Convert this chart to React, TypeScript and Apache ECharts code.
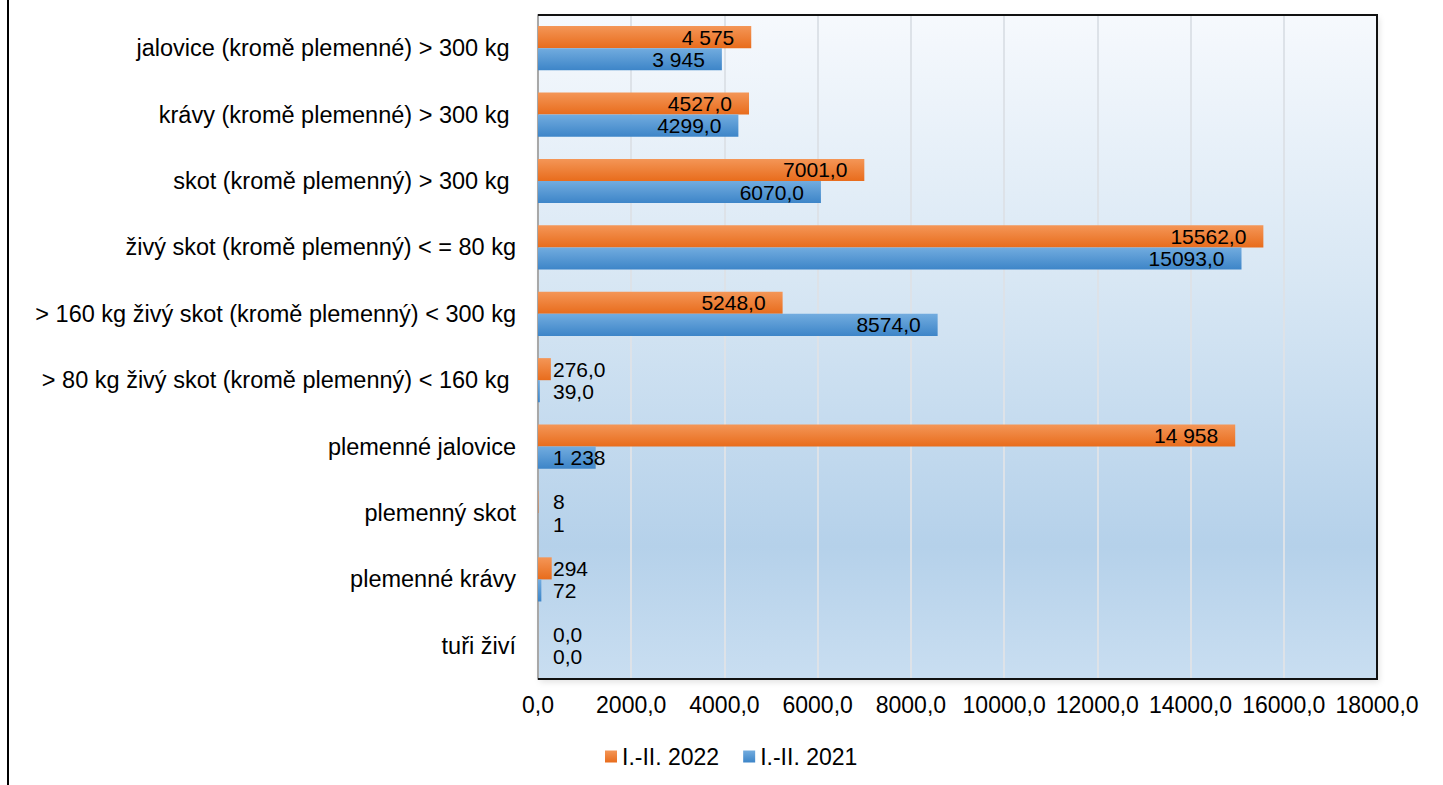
import React, { useEffect, useRef } from "react";
import * as echarts from "echarts";

const categories = [
  "jalovice (kromě plemenné) > 300 kg ",
  "krávy (kromě plemenné) > 300 kg ",
  "skot (kromě plemenný) > 300 kg ",
  "živý skot (kromě plemenný) < = 80 kg",
  "> 160 kg živý skot (kromě plemenný) < 300 kg",
  "> 80 kg živý skot (kromě plemenný) < 160 kg ",
  "plemenné jalovice",
  "plemenný skot",
  "plemenné krávy",
  "tuři živí",
];
const values2022 = [4575, 4527, 7001, 15562, 5248, 276, 14958, 8, 294, 0];
const values2021 = [3945, 4299, 6070, 15093, 8574, 39, 1238, 1, 72, 0];
// label number format per category: "space" = thousands space, "dec" = one decimal with comma, "int" = plain integer
const labelFormats = ["space", "dec", "dec", "dec", "dec", "dec", "space", "int", "int", "dec"];
const xTicks = { min: 0, max: 18000, interval: 2000 };
const seriesNames = ["I.-II. 2022", "I.-II. 2021"];

const FONT = "'Liberation Sans', Arial, sans-serif";

const G_LEFT = 538;
const G_RIGHT = 66;
const G_TOP = 15;
const G_BOTTOM = 106;
const W = 1443;
const H = 785;

function fmt(v: number, kind: string): string {
  if (kind === "dec") return v.toFixed(1).replace(".", ",");
  if (kind === "space") return String(Math.round(v)).replace(/\B(?=(\d{3})+(?!\d))/g, " ");
  return String(Math.round(v));
}

function buildData(vals: number[]) {
  return vals.map((v, i) => {
    const small = v < 2000;
    return {
      value: v,
      label: {
        show: true,
        formatter: fmt(v, labelFormats[i]),
        position: small ? [15, "50%"] : "insideRight",
        distance: 17,
        align: small ? "left" : undefined,
        verticalAlign: "middle",
        color: "#000",
        fontSize: 21,
        fontFamily: FONT,
      },
    };
  });
}

export default function App() {
  const ref = useRef<HTMLDivElement>(null);
  useEffect(() => {
    if (!ref.current) return;
    const chart = echarts.init(ref.current, undefined, { renderer: "svg" });
    const orange = new echarts.graphic.LinearGradient(0, 0, 0, 1, [
      { offset: 0, color: "#f49657" },
      { offset: 1, color: "#e86c1c" },
    ]);
    const blue = new echarts.graphic.LinearGradient(0, 0, 0, 1, [
      { offset: 0, color: "#72acdf" },
      { offset: 1, color: "#3d85c8" },
    ]);
    const x1 = G_LEFT;
    const x2 = W - G_RIGHT;
    const y1 = G_TOP;
    const y2 = H - G_BOTTOM;
    chart.setOption({
      animation: false,
      textStyle: { fontFamily: FONT },
      grid: {
        left: G_LEFT,
        right: G_RIGHT,
        top: G_TOP,
        bottom: G_BOTTOM,
        show: true,
        borderWidth: 0,
        backgroundColor: new echarts.graphic.LinearGradient(0, 0, 0, 1, [
          { offset: 0, color: "#f6f9fd" },
          { offset: 0.4, color: "#d8e7f4" },
          { offset: 0.8, color: "#b5d1ea" },
          { offset: 1, color: "#c9def1" },
        ]),
        shadowColor: "rgba(0,0,0,0.12)",
        shadowBlur: 6,
        shadowOffsetY: 3,
        shadowOffsetX: 2,
      },
      legend: {
        left: 600,
        top: 740,
        icon: "rect",
        itemWidth: 12,
        itemHeight: 12,
        itemGap: 24,
        textStyle: { fontSize: 23, color: "#000", fontFamily: FONT },
        data: seriesNames,
      },
      xAxis: {
        type: "value",
        min: xTicks.min,
        max: xTicks.max,
        interval: xTicks.interval,
        axisLine: { show: false },
        axisTick: { show: false },
        splitLine: { show: true, lineStyle: { color: "#dde2e8", width: 2 } },
        axisLabel: {
          fontSize: 23,
          color: "#000",
          margin: 14,
          fontFamily: FONT,
          formatter: (v: number) => v.toFixed(1).replace(".", ","),
        },
      },
      yAxis: {
        type: "category",
        inverse: true,
        data: categories,
        axisTick: { show: false },
        axisLine: { show: true, lineStyle: { color: "#a8a8a8", width: 2 } },
        axisLabel: { fontSize: 23.5, color: "#000", margin: 22, fontFamily: FONT },
      },
      series: [
        {
          name: seriesNames[0],
          type: "bar",
          data: buildData(values2022),
          itemStyle: { color: orange },
          barGap: "0%",
          barCategoryGap: "33.5%",
        },
        {
          name: seriesNames[1],
          type: "bar",
          data: buildData(values2021),
          itemStyle: { color: blue },
          barGap: "0%",
          barCategoryGap: "33.5%",
        },
      ],
      graphic: [
        {
          type: "line",
          shape: { x1: 8, y1: 0, x2: 8, y2: H },
          style: { stroke: "#000", lineWidth: 2 },
        },
        {
          type: "polyline",
          z: 100,
          shape: {
            points: [
              [x1, y1],
              [x2, y1],
              [x2, y2],
              [x1, y2],
            ],
          },
          style: { stroke: "#111", lineWidth: 2, fill: null },
        },
      ],
    });
    return () => chart.dispose();
  }, []);
  return (
    <div
      ref={ref}
      style={{ position: "absolute", left: 0, top: 0, width: W, height: H }}
    />
  );
}
